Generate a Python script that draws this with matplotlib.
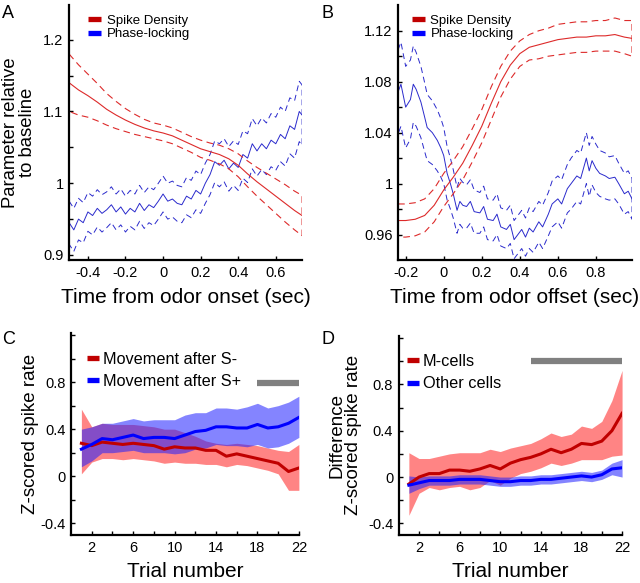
import numpy as np
import matplotlib
matplotlib.use("Agg")
import matplotlib.pyplot as plt
from matplotlib.lines import Line2D

plt.rcParams['font.family'] = ['Liberation Sans', 'DejaVu Sans']

# ---------------- Panel A data ----------------
a_red_t = [-0.5, -0.45, -0.4, -0.35, -0.3, -0.25, -0.2, -0.15, -0.1, -0.05, 0.0,
           0.05, 0.1, 0.15, 0.2, 0.25, 0.3, 0.35, 0.4, 0.45, 0.5, 0.55, 0.6, 0.65, 0.7, 0.74]
a_red_mean = [1.140, 1.130, 1.122, 1.113, 1.103, 1.095, 1.088, 1.082, 1.077, 1.073, 1.070,
              1.066, 1.060, 1.054, 1.048, 1.044, 1.040, 1.034, 1.025, 1.013, 1.002, 0.992,
              0.982, 0.972, 0.962, 0.955]
a_red_hw = [0.040, 0.035, 0.030, 0.026, 0.022, 0.019, 0.016, 0.014, 0.012, 0.011, 0.011,
            0.011, 0.011, 0.011, 0.012, 0.012, 0.013, 0.014, 0.016, 0.018, 0.020, 0.022,
            0.024, 0.026, 0.027, 0.028]

a_blue_t = [-0.5, -0.475, -0.45, -0.425, -0.4, -0.375, -0.35, -0.325, -0.3, -0.275,
            -0.25, -0.225, -0.2, -0.175, -0.15, -0.125, -0.1, -0.075, -0.05, -0.025,
            0.0, 0.025, 0.05, 0.075, 0.1, 0.125, 0.15, 0.175, 0.2, 0.225,
            0.25, 0.275, 0.3, 0.325, 0.35, 0.375, 0.4, 0.425, 0.45, 0.475,
            0.5, 0.525, 0.55, 0.575, 0.6, 0.625, 0.65, 0.675, 0.7, 0.725, 0.74]
a_blue_mean = [0.945, 0.935, 0.950, 0.945, 0.960, 0.955, 0.965, 0.958, 0.963, 0.970,
               0.960, 0.967, 0.957, 0.965, 0.960, 0.972, 0.962, 0.970, 0.966, 0.975,
               0.985, 0.975, 0.978, 0.972, 0.970, 0.982, 0.978, 0.990, 0.985, 1.000,
               1.012, 1.030, 1.025, 1.032, 1.020, 1.028, 1.022, 1.040, 1.035, 1.055,
               1.045, 1.055, 1.048, 1.060, 1.055, 1.068, 1.062, 1.080, 1.075, 1.100, 1.095]
a_blue_hw = [0.030, 0.030, 0.029, 0.028, 0.027, 0.027, 0.026, 0.026, 0.025, 0.025,
             0.025, 0.025, 0.025, 0.025, 0.025, 0.025, 0.025, 0.025, 0.025, 0.025,
             0.025, 0.025, 0.025, 0.025, 0.025, 0.026, 0.026, 0.027, 0.027, 0.028,
             0.028, 0.029, 0.030, 0.030, 0.031, 0.031, 0.032, 0.033, 0.034, 0.035,
             0.035, 0.036, 0.036, 0.037, 0.037, 0.038, 0.038, 0.039, 0.040, 0.042, 0.042]

# ---------------- Panel B data ----------------
b_red_t = [-0.24, -0.2, -0.15, -0.1, -0.05, 0.0, 0.05, 0.1, 0.15, 0.2, 0.25, 0.3, 0.35,
           0.4, 0.45, 0.5, 0.55, 0.6, 0.65, 0.7, 0.75, 0.8, 0.85, 0.9, 0.95, 0.99]
b_red_mean = [0.971, 0.971, 0.972, 0.975, 0.983, 0.995, 1.005, 1.016, 1.030, 1.045, 1.063,
              1.080, 1.093, 1.102, 1.107, 1.109, 1.111, 1.113, 1.114, 1.115, 1.115, 1.116,
              1.116, 1.117, 1.115, 1.114]
b_red_hw = [0.013, 0.013, 0.013, 0.013, 0.013, 0.013, 0.013, 0.013, 0.013, 0.013, 0.013,
            0.012, 0.011, 0.010, 0.010, 0.011, 0.011, 0.012, 0.012, 0.012, 0.012, 0.012,
            0.012, 0.013, 0.013, 0.014]

b_blue_t = [-0.24, -0.225, -0.2, -0.175, -0.16, -0.145, -0.12, -0.1, -0.087, -0.06,
            -0.034, -0.015, 0.0, 0.018, 0.035, 0.05, 0.07, 0.085, 0.1, 0.12,
            0.14, 0.16, 0.19, 0.21, 0.23, 0.26, 0.28, 0.3, 0.33, 0.35,
            0.37, 0.39, 0.41, 0.43, 0.45, 0.47, 0.5, 0.52, 0.55, 0.57,
            0.6, 0.62, 0.65, 0.67, 0.7, 0.72, 0.75, 0.765, 0.78, 0.8,
            0.82, 0.85, 0.87, 0.9, 0.92, 0.95, 0.97, 0.99]
b_blue_mean = [1.072, 1.078, 1.060, 1.066, 1.078, 1.074, 1.064, 1.052, 1.044, 1.040,
               1.034, 1.028, 1.022, 1.008, 1.000, 0.992, 0.979, 0.986, 0.983, 0.982,
               0.986, 0.978, 0.977, 0.982, 0.972, 0.971, 0.976, 0.966, 0.964, 0.968,
               0.956, 0.960, 0.964, 0.958, 0.965, 0.962, 0.970, 0.966, 0.976, 0.984,
               0.988, 0.984, 0.996, 1.000, 1.006, 1.004, 1.020, 1.010, 1.018, 1.012,
               1.008, 1.006, 1.004, 1.005, 1.000, 0.992, 0.994, 0.988]
b_blue_hw = [0.033, 0.033, 0.032, 0.031, 0.030, 0.029, 0.028, 0.027, 0.026, 0.025,
             0.024, 0.023, 0.022, 0.021, 0.020, 0.019, 0.018, 0.018, 0.018, 0.017,
             0.017, 0.017, 0.016, 0.016, 0.016, 0.016, 0.016, 0.015, 0.015, 0.015,
             0.015, 0.015, 0.015, 0.015, 0.016, 0.016, 0.016, 0.017, 0.017, 0.018,
             0.018, 0.019, 0.019, 0.020, 0.020, 0.020, 0.020, 0.020, 0.019, 0.019,
             0.018, 0.018, 0.017, 0.017, 0.016, 0.016, 0.016, 0.016]

# ---------------- Panel C data ----------------
trials = list(range(1, 23))
c_red_mean = [0.28, 0.26, 0.29, 0.28, 0.27, 0.28, 0.27, 0.26, 0.23, 0.25, 0.24,
              0.24, 0.22, 0.22, 0.17, 0.19, 0.17, 0.15, 0.13, 0.11, 0.04, 0.07]
c_red_upper = [0.57, 0.42, 0.45, 0.44, 0.44, 0.44, 0.43, 0.42, 0.40, 0.40, 0.37,
               0.34, 0.30, 0.28, 0.27, 0.28, 0.27, 0.26, 0.24, 0.22, 0.21, 0.27]
c_red_lower = [0.02, 0.12, 0.15, 0.15, 0.14, 0.15, 0.14, 0.13, 0.11, 0.12, 0.11,
               0.11, 0.10, 0.10, 0.08, 0.10, 0.09, 0.07, 0.05, 0.02, -0.12, -0.12]
c_blue_mean = [0.23, 0.27, 0.32, 0.31, 0.33, 0.35, 0.32, 0.33, 0.33, 0.32, 0.35,
               0.38, 0.39, 0.42, 0.42, 0.41, 0.41, 0.44, 0.41, 0.42, 0.45, 0.50]
c_blue_upper = [0.40, 0.42, 0.45, 0.45, 0.47, 0.49, 0.47, 0.48, 0.48, 0.48, 0.52,
                0.54, 0.54, 0.58, 0.58, 0.57, 0.59, 0.62, 0.58, 0.60, 0.63, 0.68]
c_blue_lower = [0.08, 0.13, 0.20, 0.20, 0.21, 0.22, 0.20, 0.20, 0.20, 0.19, 0.20,
                0.23, 0.24, 0.27, 0.26, 0.26, 0.25, 0.27, 0.24, 0.25, 0.28, 0.33]
c_sig = [18, 22]
c_sig_y = 0.79

# ---------------- Panel D data ----------------
d_red_mean = [-0.06, 0.00, 0.03, 0.03, 0.06, 0.06, 0.05, 0.07, 0.10, 0.07, 0.12,
              0.15, 0.17, 0.20, 0.24, 0.21, 0.24, 0.29, 0.28, 0.31, 0.40, 0.55]
d_red_upper = [0.21, 0.16, 0.16, 0.18, 0.20, 0.21, 0.21, 0.21, 0.24, 0.22, 0.25,
               0.27, 0.29, 0.33, 0.38, 0.35, 0.37, 0.44, 0.42, 0.48, 0.66, 0.92]
d_red_lower = [-0.33, -0.14, -0.09, -0.11, -0.09, -0.08, -0.11, -0.09, -0.03, -0.07, -0.01,
               0.03, 0.05, 0.08, 0.12, 0.10, 0.12, 0.15, 0.15, 0.15, 0.18, 0.19]
d_blue_mean = [-0.07, -0.05, -0.03, -0.03, -0.03, -0.02, -0.02, -0.02, -0.03, -0.04, -0.04,
               -0.03, -0.03, -0.02, -0.02, -0.01, 0.00, 0.01, 0.00, 0.02, 0.07, 0.08]
d_blue_upper = [0.01, 0.00, 0.01, 0.01, 0.01, 0.02, 0.02, 0.02, 0.01, 0.00, 0.00,
                0.01, 0.01, 0.02, 0.02, 0.03, 0.04, 0.05, 0.04, 0.06, 0.12, 0.15]
d_blue_lower = [-0.14, -0.10, -0.07, -0.07, -0.07, -0.06, -0.06, -0.06, -0.07, -0.08, -0.08,
                -0.07, -0.07, -0.06, -0.06, -0.05, -0.04, -0.03, -0.04, -0.02, 0.02, 0.00]
d_sig = [13, 22]
d_sig_y = 1.0

RED_THIN = '#dd2a2a'
BLUE_THIN = '#2a2acc'
RED_THICK = '#c00000'
BLUE_THICK = '#0000ff'
GRAY = '#808080'

fig = plt.figure(figsize=(6.4, 5.83), dpi=100)
axA = fig.add_axes([0.108, 0.554, 0.364, 0.437])
axB = fig.add_axes([0.622, 0.554, 0.3655, 0.437])
axC = fig.add_axes([0.111, 0.0823, 0.356, 0.347])
axD = fig.add_axes([0.623, 0.0823, 0.349, 0.342])


def style(ax):
    for s in ['top', 'right']:
        ax.spines[s].set_visible(False)
    for s in ['left', 'bottom']:
        ax.spines[s].set_linewidth(1.6)
    ax.tick_params(direction='in', length=3, width=1, labelsize=10.5, pad=4)


def legend_handles():
    return [Line2D([], [], color=RED_THICK, lw=3.8, solid_capstyle='butt'),
            Line2D([], [], color=BLUE_THICK, lw=3.8, solid_capstyle='butt')]


def thin_panel(ax, t1, m1, h1, t2, m2, h2, anchor):
    t1 = np.array(t1); m1 = np.array(m1); h1 = np.array(h1)
    t2 = np.array(t2); m2 = np.array(m2); h2 = np.array(h2)
    dash = (0, (6, 4))
    ax.plot(t2, m2, color=BLUE_THIN, lw=0.7)
    ax.plot(np.concatenate([t2, t2[::-1]]), np.concatenate([m2 + h2, (m2 - h2)[::-1]]),
            color=BLUE_THIN, lw=0.7, ls=dash)
    ax.plot(t1, m1, color=RED_THIN, lw=0.8)
    ax.plot(np.concatenate([t1, t1[::-1]]), np.concatenate([m1 + h1, (m1 - h1)[::-1]]),
            color=RED_THIN, lw=0.8, ls=dash)
    ax.legend(legend_handles(), ['Spike Density', 'Phase-locking'], loc='upper left',
              bbox_to_anchor=anchor, frameon=False, fontsize=9.5,
              handlelength=1.0, handletextpad=0.4, labelspacing=0.08, borderaxespad=0.0)


# Panel A
style(axA)
thin_panel(axA, a_red_t, a_red_mean, a_red_hw, a_blue_t, a_blue_mean, a_blue_hw, (0.059, 0.984))
axA.set_xlim(-0.5, 0.74)
axA.set_ylim(0.893, 1.248)
axA.set_xticks([-0.4, -0.2, 0, 0.2, 0.4, 0.6])
axA.set_xticklabels(['-0.4', '-0.2', '0', '0.2', '0.4', '0.6'])
yt = np.arange(0.9, 1.2001, 0.05)
axA.set_yticks(yt)
axA.set_yticklabels(['0.9', '', '1', '', '1.1', '', '1.2'])
axA.set_xlabel('Time from odor onset (sec)', fontsize=15, labelpad=6)
axA.set_ylabel('Parameter relative\nto baseline', fontsize=13.3, labelpad=5, linespacing=1.0)

# Panel B
style(axB)
thin_panel(axB, b_red_t, b_red_mean, b_red_hw, b_blue_t, b_blue_mean, b_blue_hw, (0.037, 0.984))
axB.set_xlim(-0.24, 0.99)
axB.set_ylim(0.940, 1.14)
axB.set_xticks([-0.2, 0, 0.2, 0.4, 0.6, 0.8])
axB.set_xticklabels(['-0.2', '0', '0.2', '0.4', '0.6', '0.8'])
yt = np.arange(0.96, 1.1201, 0.02)
axB.set_yticks(yt)
axB.set_yticklabels(['0.96', '', '1', '', '1.04', '', '1.08', '', '1.12'])
axB.set_xlabel('Time from odor offset (sec)', fontsize=15, labelpad=6)


def thick_panel(ax, rm, ru, rl, bm, bu, bl, labels, sig, sig_y, anchor, spacing):
    ax.fill_between(trials, rl, ru, color='#ff2020', alpha=0.55, lw=0)
    ax.fill_between(trials, bl, bu, color='#2020ff', alpha=0.55, lw=0)
    ax.plot(trials, rm, color=RED_THICK, lw=2.2)
    ax.plot(trials, bm, color=BLUE_THICK, lw=2.2)
    ax.plot(sig, [sig_y, sig_y], color=GRAY, lw=4.5, solid_capstyle='butt')
    ax.set_xlim(0, 22)
    ax.set_ylim(-0.5, 1.22)
    ax.set_xticks(range(2, 23, 2))
    ax.set_xticklabels(['2', '', '6', '', '10', '', '14', '', '18', '', '22'])
    ax.set_yticks(np.arange(-0.4, 1.21, 0.2))
    ax.set_yticklabels(['-0.4', '', '0', '', '0.4', '', '0.8', '', ''])
    ax.set_xlabel('Trial number', fontsize=15, labelpad=5)
    ax.legend(legend_handles(), labels, loc='upper left', bbox_to_anchor=anchor, frameon=False,
              fontsize=11.7, handlelength=0.75, handletextpad=0.25, labelspacing=spacing,
              borderaxespad=0.0)


style(axC)
thick_panel(axC, c_red_mean, c_red_upper, c_red_lower, c_blue_mean, c_blue_upper, c_blue_lower,
            ['Movement after S-', 'Movement after S+'], c_sig, c_sig_y, (0.042, 0.938), 0.42)
axC.set_ylabel('Z-scored spike rate', fontsize=13.5, labelpad=1)

style(axD)
thick_panel(axD, d_red_mean, d_red_upper, d_red_lower, d_blue_mean, d_blue_upper, d_blue_lower,
            ['M-cells', 'Other cells'], d_sig, d_sig_y, (0.007, 0.942), 0.48)
axD.set_ylabel('Difference\nZ-scored spike rate', fontsize=13.5, labelpad=4, linespacing=1.0)

fig.text(0.003, 0.992, 'A', fontsize=13, va='top', ha='left')
fig.text(0.502, 0.992, 'B', fontsize=13, va='top', ha='left')
fig.text(0.003, 0.432, 'C', fontsize=13, va='top', ha='left')
fig.text(0.502, 0.432, 'D', fontsize=13, va='top', ha='left')

fig.savefig('out.png', dpi=100)
